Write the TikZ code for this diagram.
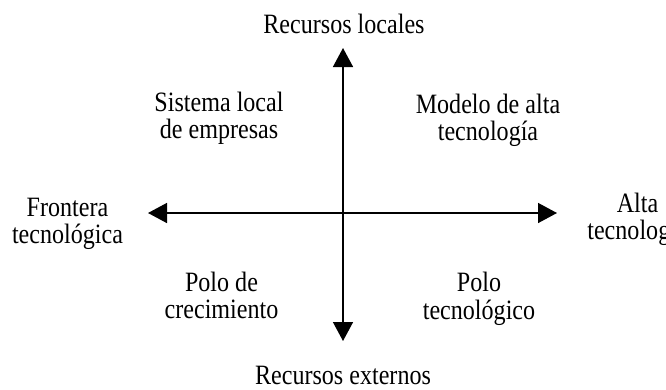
\documentclass[tikz,border=0pt]{standalone}
\usepackage{fontspec}
\setmainfont{Liberation Serif}[FakeStretch=0.86]
\usetikzlibrary{arrows.meta}
\tikzset{
  axis/.style={line width=1.5pt, {Triangle[length=19pt,width=20pt]}-{Triangle[length=19pt,width=20pt]}},
  lbl/.style={anchor=base, inner sep=0pt, font=\fontsize{28}{27.3}\selectfont}
}
\newcommand{\twolines}[2]{\begin{tabular}[t]{@{}c@{}}#1\\#2\end{tabular}}
\begin{document}
\begin{tikzpicture}[x=1pt,y=-1pt]
\useasboundingbox (0,0) rectangle (666,389);
\clip (0,0) rectangle (666,389);
\coordinate (L) at (148,213);
\coordinate (R) at (557,213);
\coordinate (T) at (343,48);
\coordinate (B) at (343,341);
\draw[axis] (L) -- (R);
\draw[axis] (T) -- (B);
\node[lbl] (top) at (344,33) {Recursos locales};
\node[lbl] (bot) at (343,384) {Recursos externos};
\node[lbl] (tl) at (219,111) {\twolines{Sistema local}{de empresas}};
\node[lbl] (tr) at (488,113) {\twolines{Modelo de alta}{tecnología}};
\node[lbl] (left) at (67.5,216) {\twolines{Frontera}{tecnológica}};
\node[lbl] (right) at (637.5,212) {\twolines{Alta}{tecnología}};
\node[lbl] (bl) at (221.5,291.5) {\twolines{Polo de}{crecimiento}};
\node[lbl] (br) at (479,291.5) {\twolines{Polo}{tecnológico}};
\end{tikzpicture}
\end{document}
